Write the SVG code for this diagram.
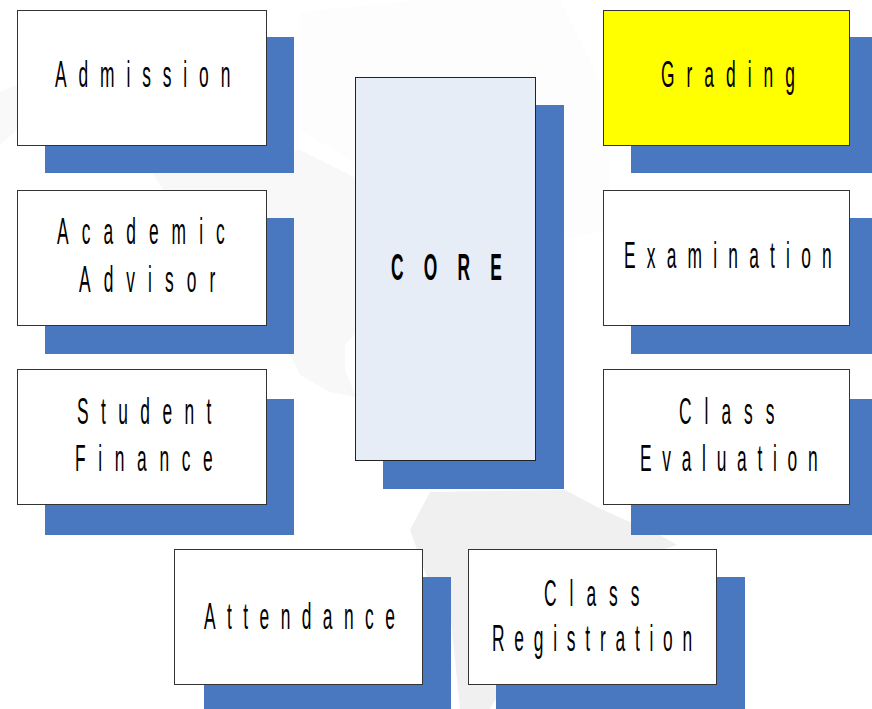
<svg xmlns="http://www.w3.org/2000/svg" width="872" height="709" viewBox="0 0 872 709">
<style>
.s{fill:#4a78c0}
.b{fill:#fff;stroke:#333;stroke-width:1}
.t{font-family:"Liberation Sans",Arial,sans-serif;font-size:37px;fill:#000}
.c{font-weight:bold}
</style>
<rect width="872" height="709" fill="#fff"/>
<g id="map">
<path fill="#fdfdfd" d="M300 12 L420 0 L560 0 L590 60 L610 110 L610 230 L560 240 L400 190 L300 130 Z"/>
<path fill="#f8f8f8" d="M150 170 L300 150 L360 180 L360 328 L345 345 L345 370 L356 397 L330 392 L300 375 L285 345 L190 230 Z"/>
<path fill="#f9f9f9" d="M0 92 L17 85 L17 130 L0 145 Z"/>
<path fill="#f0f0f0" d="M430 492 L410 530 L428 580 L451 620 L460 709 L490 709 L530 640 L600 570 L677 545 L660 535 L603 510 L565 490 Z"/>
</g>
<g id="admission"><rect class="s" x="45" y="37" width="249" height="136"/><rect class="b" x="17.500" y="10.500" width="249" height="135"/><text class="t" transform="translate(55 87) scale(.47 1)" textLength="373">Admission</text></g>
<g id="academic-advisor"><rect class="s" x="45" y="218" width="249" height="136"/><rect class="b" x="17.500" y="190.500" width="249" height="135"/><text class="t" transform="translate(57 244) scale(.47 1)" textLength="357">Academic</text><text class="t" transform="translate(79 292) scale(.47 1)" textLength="290">Advisor</text></g>
<g id="student-finance"><rect class="s" x="45" y="399" width="249" height="136"/><rect class="b" x="17.500" y="369.500" width="249" height="135"/><text class="t" transform="translate(77 424) scale(.47 1)" textLength="286">Student</text><text class="t" transform="translate(75 471) scale(.47 1)" textLength="293">Finance</text></g>
<g id="core"><rect class="s" x="383" y="105" width="181" height="384"/><rect x="355.500" y="77.500" width="180" height="383" fill="#e7edf7" stroke="#222"/><text class="t c" transform="translate(391 280) scale(.47 1)" textLength="236">CORE</text></g>
<g id="grading"><rect class="s" x="631" y="37" width="241" height="136"/><rect class="b" x="603.500" y="10.500" width="246" height="135" style="fill:#ffff00"/><text class="t" transform="translate(661 87) scale(.47 1)" textLength="285">Grading</text></g>
<g id="examination"><rect class="s" x="631" y="218" width="241" height="136"/><rect class="b" x="603.500" y="190.500" width="246" height="135"/><text class="t" transform="translate(624 268) scale(.47 1)" textLength="442">Examination</text></g>
<g id="class-evaluation"><rect class="s" x="631" y="399" width="241" height="136"/><rect class="b" x="603.500" y="369.500" width="246" height="135"/><text class="t" transform="translate(679 424) scale(.47 1)" textLength="203">Class</text><text class="t" transform="translate(640 471) scale(.47 1)" textLength="378">Evaluation</text></g>
<g id="attendance"><rect class="s" x="204" y="577" width="247" height="132"/><rect class="b" x="174.500" y="549.500" width="248" height="135"/><text class="t" transform="translate(204 629) scale(.47 1)" textLength="406">Attendance</text></g>
<g id="class-registration"><rect class="s" x="496" y="577" width="249" height="132"/><rect class="b" x="468.500" y="549.500" width="248" height="135"/><text class="t" transform="translate(544 606) scale(.47 1)" textLength="203">Class</text><text class="t" transform="translate(492 651) scale(.47 1)" textLength="426">Registration</text></g>
</svg>
